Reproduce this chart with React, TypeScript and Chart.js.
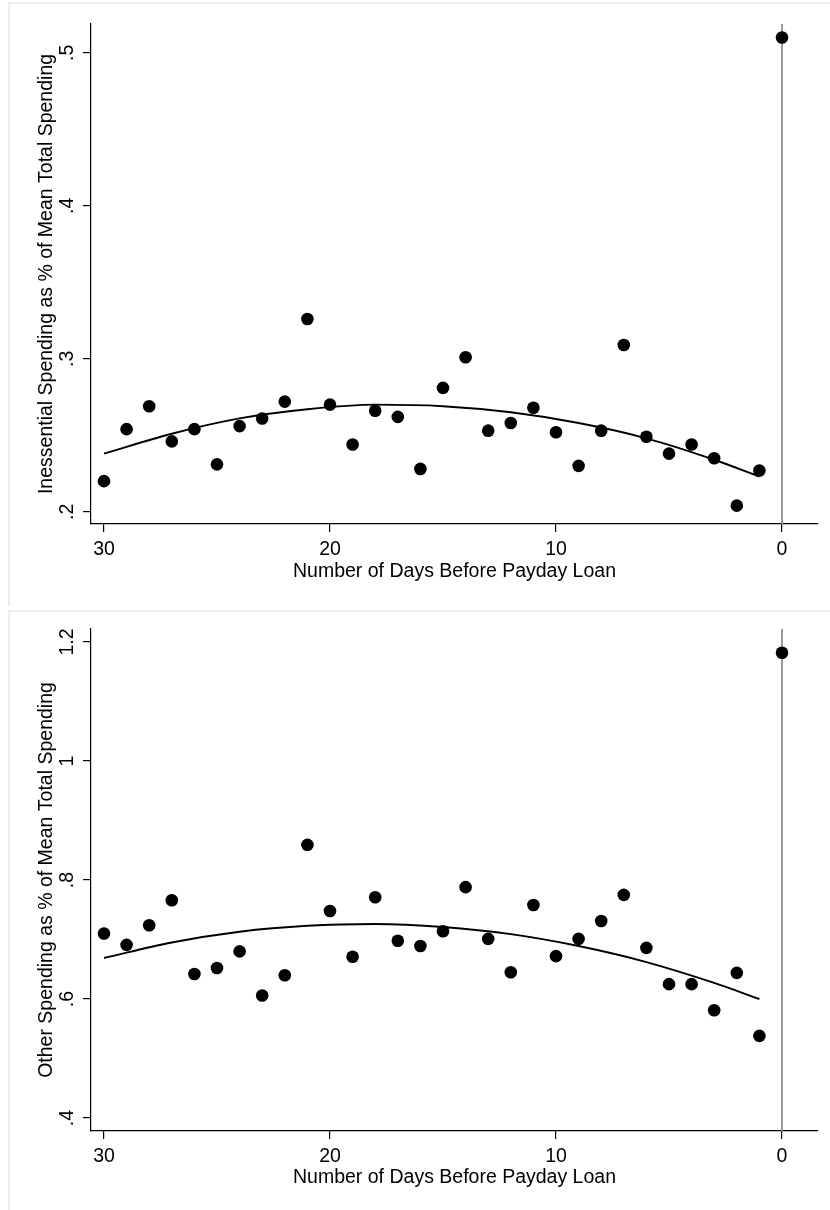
import React, { useEffect, useRef } from "react";
import { Chart, registerables } from "chart.js";

Chart.register(...registerables);

// ---------- data ----------
const DAYS = [30, 29, 28, 27, 26, 25, 24, 23, 22, 21, 20, 19, 18, 17, 16, 15, 14, 13, 12, 11, 10, 9, 8, 7, 6, 5, 4, 3, 2, 1, 0];
const INESSENTIAL = [0.220, 0.254, 0.269, 0.246, 0.254, 0.231, 0.256, 0.261, 0.272, 0.326, 0.270, 0.244, 0.266, 0.262, 0.228, 0.281, 0.301, 0.253, 0.258, 0.268, 0.252, 0.230, 0.253, 0.309, 0.249, 0.238, 0.244, 0.235, 0.204, 0.227, 0.510];
const OTHER = [0.710, 0.691, 0.724, 0.766, 0.642, 0.652, 0.680, 0.606, 0.640, 0.859, 0.748, 0.671, 0.771, 0.698, 0.689, 0.714, 0.788, 0.701, 0.645, 0.758, 0.672, 0.701, 0.731, 0.775, 0.686, 0.625, 0.625, 0.581, 0.644, 0.538, 1.182];
const FIT_DAYS = [30, 27, 24, 21, 18, 15, 12, 9, 6, 3, 1];
const INESSENTIAL_FIT = [0.238, 0.251, 0.261, 0.267, 0.270, 0.269, 0.265, 0.258, 0.248, 0.234, 0.223];
const OTHER_FIT = [0.669, 0.695, 0.713, 0.723, 0.726, 0.721, 0.709, 0.689, 0.662, 0.627, 0.600];
const X_TICKS = [30, 20, 10, 0];
const X_TICK_LABELS = ["30", "20", "10", "0"];
const TOP_Y_TICKS = [0.2, 0.3, 0.4, 0.5];
const TOP_Y_TICK_LABELS = [".2", ".3", ".4", ".5"];
const BOTTOM_Y_TICKS = [0.4, 0.6, 0.8, 1.0, 1.2];
const BOTTOM_Y_TICK_LABELS = [".4", ".6", ".8", "1", "1.2"];
const VLINE_DAY = 0;
const X_TITLE = "Number of Days Before Payday Loan";
const TOP_Y_TITLE = "Inessential Spending as % of Mean Total Spending";
const BOTTOM_Y_TITLE = "Other Spending as % of Mean Total Spending";

const FONT = "'Liberation Sans', Arial, Helvetica, sans-serif";
const FONT_SIZE = 19.5;

const decorPlugin = {
  id: "panelDecor",
  beforeDatasetsDraw(chart: any) {
    const { ctx, chartArea, scales } = chart;
    const px = scales.x.getPixelForValue(VLINE_DAY);
    ctx.save();
    ctx.strokeStyle = "#8a8a8a";
    ctx.lineWidth = 1.7;
    ctx.beginPath();
    ctx.moveTo(px, chartArea.top);
    ctx.lineTo(px, chartArea.bottom);
    ctx.stroke();
    ctx.restore();
  },
  afterDraw(chart: any) {
    const opts = chart.options.plugins.panelDecor;
    const { ctx, chartArea, scales } = chart;
    ctx.save();
    ctx.fillStyle = "#000";
    ctx.font = `${FONT_SIZE}px ${FONT}`;
    ctx.textAlign = "center";
    ctx.textBaseline = "alphabetic";
    opts.yTicks.forEach((v: number, i: number) => {
      const py = scales.y.getPixelForValue(v);
      ctx.save();
      ctx.translate(chartArea.left - 18, py);
      ctx.rotate(-Math.PI / 2);
      ctx.fillText(opts.yTickLabels[i], 0, 0);
      ctx.restore();
    });
    ctx.restore();
  },
};

type PanelCfg = {
  top: number;
  height: number;
  chartTop: number;
  chartBottom: number;
  yMin: number;
  yMax: number;
  values: number[];
  fit: number[];
  yTicks: number[];
  yTickLabels: string[];
  yTitle: string;
  xTitlePad: number;
};

const PANELS: PanelCfg[] = [
  {
    top: 0,
    height: 606,
    chartTop: 24,
    chartBottom: 524,
    yMin: 0.192,
    yMax: 0.5188,
    values: INESSENTIAL,
    fit: INESSENTIAL_FIT,
    yTicks: TOP_Y_TICKS,
    yTickLabels: TOP_Y_TICK_LABELS,
    yTitle: TOP_Y_TITLE,
    xTitlePad: 23,
  },
  {
    top: 608,
    height: 602,
    chartTop: 21,
    chartBottom: 523,
    yMin: 0.3782,
    yMax: 1.2218,
    values: OTHER,
    fit: OTHER_FIT,
    yTicks: BOTTOM_Y_TICKS,
    yTickLabels: BOTTOM_Y_TICK_LABELS,
    yTitle: BOTTOM_Y_TITLE,
    xTitlePad: 21,
  },
];

function Panel({ cfg }: { cfg: PanelCfg }) {
  const ref = useRef<HTMLCanvasElement | null>(null);
  useEffect(() => {
    const canvas = ref.current!;
    const chart = new Chart(canvas, {
      type: "scatter",
      data: {
        datasets: [
          {
            type: "scatter",
            data: DAYS.map((d, i) => ({ x: d, y: cfg.values[i] })),
            backgroundColor: "#000",
            borderColor: "#000",
            pointRadius: 6.3,
            pointBorderWidth: 0,
            showLine: false,
          } as any,
          {
            type: "scatter",
            data: FIT_DAYS.map((d, i) => ({ x: d, y: cfg.fit[i] })),
            borderColor: "#000",
            backgroundColor: "#000",
            borderWidth: 1.9,
            pointRadius: 0,
            showLine: true,
            cubicInterpolationMode: "monotone",
          } as any,
        ],
      },
      options: {
        responsive: false,
        animation: false,
        devicePixelRatio: 1,
        layout: { padding: { left: 0, right: 12, top: cfg.chartTop, bottom: 0 } },
        plugins: {
          legend: { display: false },
          tooltip: { enabled: false },
          panelDecor: { yTicks: cfg.yTicks, yTickLabels: cfg.yTickLabels },
        } as any,
        scales: {
          x: {
            type: "linear",
            reverse: true,
            min: -1.593,
            max: 30.575,
            afterBuildTicks: (s: any) => {
              s.ticks = X_TICKS.map((v) => ({ value: v }));
            },
            afterFit: (s: any) => {
              s.height = cfg.height - cfg.chartBottom;
              s.paddingLeft = 0;
              s.paddingRight = 0;
            },
            grid: {
              display: true,
              drawOnChartArea: false,
              drawTicks: true,
              tickLength: 8,
              color: "#000",
              lineWidth: 1.2,
            },
            border: { display: true, color: "#000", width: 1.2 },
            ticks: {
              color: "#000",
              padding: 6,
              maxRotation: 0,
              minRotation: 0,
              font: { family: FONT, size: FONT_SIZE },
              callback: (v: any) => {
                const i = X_TICKS.indexOf(Number(v));
                return i >= 0 ? X_TICK_LABELS[i] : "";
              },
            },
            title: {
              display: true,
              text: X_TITLE,
              color: "#000",
              font: { family: FONT, size: FONT_SIZE, lineHeight: 1.2 },
              padding: { top: 0, bottom: cfg.xTitlePad },
            },
          } as any,
          y: {
            type: "linear",
            min: cfg.yMin,
            max: cfg.yMax,
            afterBuildTicks: (s: any) => {
              s.ticks = cfg.yTicks.map((v) => ({ value: v }));
            },
            afterFit: (s: any) => {
              s.width = 91;
              s.paddingTop = 0;
              s.paddingBottom = 0;
            },
            grid: {
              display: true,
              drawOnChartArea: false,
              drawTicks: true,
              tickLength: 8,
              color: "#000",
              lineWidth: 1.2,
            },
            border: { display: true, color: "#000", width: 1.2 },
            ticks: { display: false },
            title: {
              display: true,
              text: cfg.yTitle,
              color: "#000",
              font: { family: FONT, size: FONT_SIZE, lineHeight: 1.2 },
              padding: { top: 35.3, bottom: 0 },
            },
          } as any,
        },
      },
      plugins: [decorPlugin],
    });
    return () => chart.destroy();
  }, [cfg]);

  return (
    <>
      <div
        style={{
          position: "absolute",
          left: 8,
          top: cfg.top + 2,
          width: 840,
          height: cfg.height - 2,
          boxSizing: "border-box",
          borderTop: "2px solid #e8edf1",
          borderLeft: "2px solid #e8edf1",
        }}
      />
      <canvas
        ref={ref}
        width={830}
        height={cfg.height}
        style={{ position: "absolute", left: 0, top: cfg.top, width: 830, height: cfg.height }}
      />
    </>
  );
}

export default function App() {
  return (
    <div
      style={{
        position: "absolute",
        left: 0,
        top: 0,
        width: 830,
        height: 1210,
        overflow: "hidden",
        background: "#fff",
      }}
    >
      {PANELS.map((p, i) => (
        <Panel key={i} cfg={p} />
      ))}
    </div>
  );
}
